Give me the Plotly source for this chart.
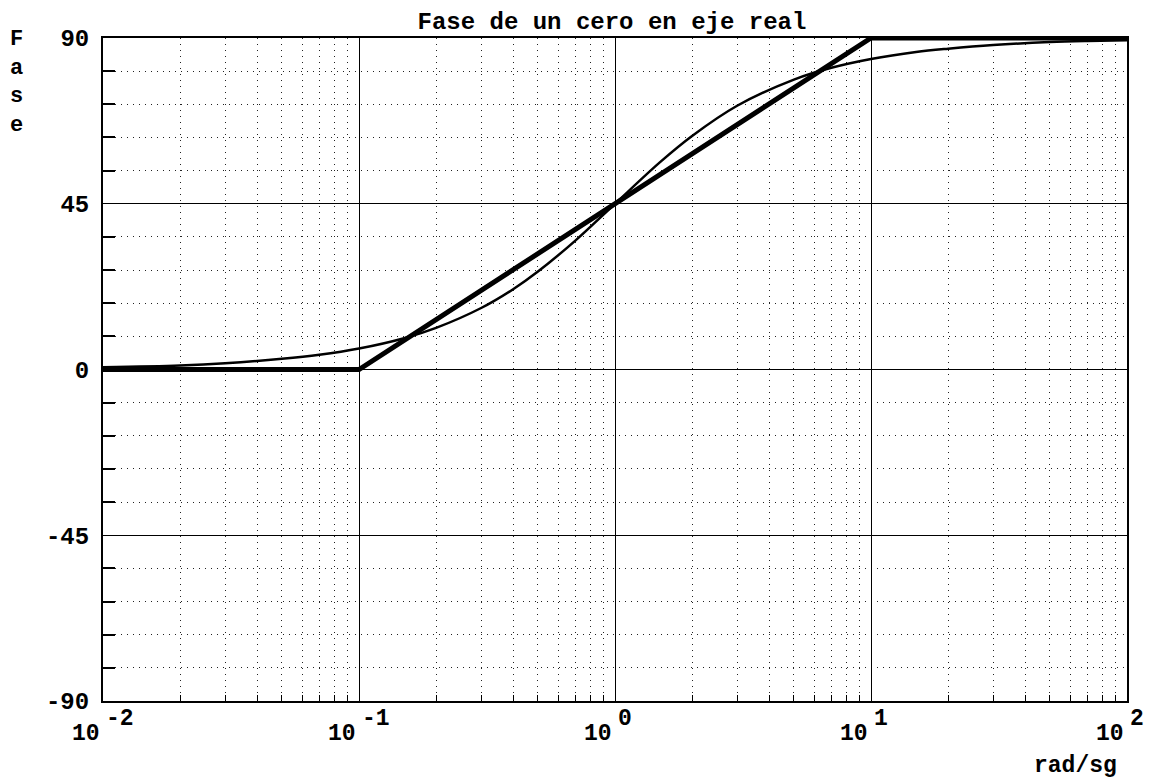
import math
import plotly.graph_objects as go

# Asymptotic (straight-line) approximation
asym_w = [0.01, 0.1, 10, 100]
asym_phase = [0, 0, 90, 90]

# Exact phase curve
exact_w = [0.01, 0.02, 0.03, 0.05, 0.07, 0.1, 0.15, 0.2, 0.3, 0.4, 0.5, 0.7,
           1, 1.5, 2, 3, 5, 7, 10, 15, 20, 30, 50, 70, 100]
exact_phase = [0.6, 1.1, 1.7, 2.9, 4.0, 5.7, 8.5, 11.3, 16.7, 21.8, 26.6, 35.0,
               45.0, 56.3, 63.4, 71.6, 78.7, 81.9, 84.3, 86.2, 87.1, 88.1, 88.9, 89.2, 89.4]

x_major = [0.01, 0.1, 1, 10, 100]
x_base = "10"
x_exponents = ["-2", "-1", "0", "1", "2"]
x_minor = [m * d for d in [0.01, 0.1, 1, 10] for m in range(2, 10)]
y_major = [-90, -45, 0, 45, 90]
y_major_text = ["-90", "-45", "0", "45", "90"]
y_minor = [v for v in range(-81, 90, 9) if v % 45 != 0]

FONT = "Liberation Mono"

fig = go.Figure()
fig.add_trace(go.Scatter(x=exact_w, y=exact_phase, mode="lines",
                         line=dict(color="black", width=2.5, shape="spline"),
                         showlegend=False))
fig.add_trace(go.Scatter(x=asym_w, y=asym_phase, mode="lines",
                         line=dict(color="black", width=5),
                         showlegend=False))

fig.update_layout(
    width=1151, height=782,
    margin=dict(l=103, r=24, t=38, b=81),
    paper_bgcolor="white", plot_bgcolor="white",
    title=dict(text="Fase de un cero en eje real", xref="paper", x=0.497, xanchor="center",
               yref="container", y=0.974, yanchor="middle",
               font=dict(family=FONT, size=24, color="black", weight="bold")),
    xaxis=dict(type="log", range=[-2, 2], tickmode="array", tickvals=x_major,
               showticklabels=False, ticks="",
               showgrid=True, gridcolor="black", gridwidth=1,
               showline=True, linecolor="black", linewidth=2, mirror=True,
               zeroline=False,
               minor=dict(tickmode="array", tickvals=x_minor, ticks="inside",
                          ticklen=6, tickcolor="black", tickwidth=1,
                          showgrid=True, gridcolor="#222", gridwidth=1,
                          griddash="1px,5px")),
    yaxis=dict(range=[-90, 90], tickmode="array", tickvals=y_major,
               ticktext=y_major_text, ticks="", ticklabelstandoff=7,
               tickfont=dict(family=FONT, size=24, color="black", weight="bold"),
               showgrid=True, gridcolor="black", gridwidth=1,
               showline=True, linecolor="black", linewidth=2, mirror=True,
               zeroline=False,
               minor=dict(tickmode="array", tickvals=y_minor, ticks="inside",
                          ticklen=12, tickcolor="black", tickwidth=2,
                          showgrid=True, gridcolor="#222", gridwidth=1,
                          griddash="1px,5px")),
)

# x tick labels: base "10" left of the tick, full-size exponent raised to the right
for v, e in zip(x_major, x_exponents):
    fig.add_annotation(text=x_base, xref="x", yref="paper", x=math.log10(v), y=0,
                       xanchor="right", yanchor="middle", xshift=-1, yshift=-33,
                       showarrow=False,
                       font=dict(family=FONT, size=23, color="black", weight="bold"))
    fig.add_annotation(text=e, xref="x", yref="paper", x=math.log10(v), y=0,
                       xanchor="left", yanchor="middle", xshift=1, yshift=-18,
                       showarrow=False,
                       font=dict(family=FONT, size=23, color="black", weight="bold"))

fig.add_annotation(text="F<br>a<br>s<br>e", xref="paper", yref="paper",
                   x=-0.084, y=1.02, xanchor="center", yanchor="top", showarrow=False,
                   font=dict(family=FONT, size=22, color="black", weight="bold"),
                   align="center")
fig.add_annotation(text="rad/sg", xref="paper", yref="paper",
                   x=0.95, y=-0.076, xanchor="center", yanchor="top", showarrow=False,
                   font=dict(family=FONT, size=23, color="black", weight="bold"))

fig.write_html("out.html")
